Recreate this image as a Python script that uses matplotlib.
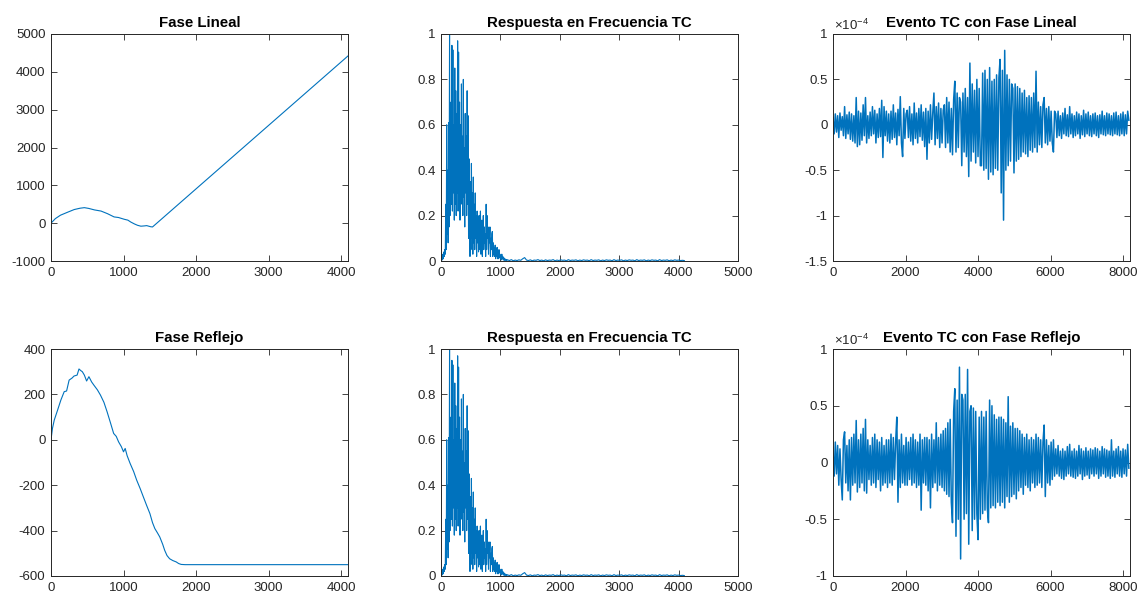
import numpy as np
import matplotlib
matplotlib.use("Agg")
from matplotlib import pyplot as plt
from matplotlib.ticker import FuncFormatter

plt.rcParams['font.family'] = ['Liberation Sans', 'DejaVu Sans']
plt.rcParams['axes.unicode_minus'] = False
plt.rcParams['mathtext.fontset'] = 'custom'
plt.rcParams['mathtext.rm'] = 'Liberation Sans'

azul = '#0072BD'
gris = '#262626'

# fase lineal (muestras 0..4096)
fl_x = [0, 60, 130, 230, 320, 400, 460, 520, 600, 690, 780, 870, 930, 1010, 1060,
        1100, 1150, 1193, 1240, 1284, 1320, 1376, 1400, 4096]
fl_y = [0, 120, 210, 290, 360, 395, 410, 390, 350, 320, 250, 165, 150, 103, 80,
        30, -20, -56, -80, -73, -65, -95, -100, 4420]

# fase reflejo
fr_x = [0, 20, 45, 90, 136, 182, 215, 250, 290, 318, 360, 386, 410, 432, 460, 491,
        523, 560, 591, 640, 682, 730, 773, 820, 864, 900, 932, 970, 1000, 1023,
        1050, 1091, 1140, 1182, 1230, 1273, 1320, 1364, 1400, 1432, 1468, 1500,
        1540, 1568, 1600, 1636, 1680, 1727, 1760, 1795, 1850, 4096]
fr_y = [0, 50, 87, 130, 175, 212, 215, 263, 272, 281, 285, 312, 305, 300, 285, 259,
        278, 255, 241, 220, 197, 165, 124, 75, 28, 15, -9, -30, -53, -38,
        -70, -104, -140, -178, -215, -251, -290, -325, -365, -391, -410, -428,
        -460, -487, -510, -524, -532, -538, -545, -549, -550, -550]

# |H| respuesta en frecuencia: tramo denso (paso 8) y cola (paso 32)
h_cabeza = [
    0.0, 0.01, 0.02, 0.005, 0.03, 0.01, 0.04, 0.02, 0.05, 0.03,
    0.25, 0.05, 0.6, 0.12, 0.4, 0.08, 0.61, 0.15, 1.0, 0.2,
    0.3, 0.7, 0.25, 0.95, 0.22, 0.93, 0.3, 0.6, 0.18, 0.85,
    0.25, 0.75, 0.2, 0.65, 0.3, 0.97, 0.22, 0.92, 0.35, 0.7,
    0.18, 0.6, 0.25, 0.78, 0.3, 0.55, 0.2, 0.8, 0.28, 0.5,
    0.15, 0.65, 0.3, 0.55, 0.2, 0.75, 0.25, 0.64, 0.1, 0.45,
    0.3, 0.02, 0.35, 0.05, 0.43, 0.1, 0.3, 0.03, 0.37, 0.08,
    0.25, 0.05, 0.3, 0.1, 0.2, 0.02, 0.22, 0.08, 0.18, 0.04,
    0.2, 0.05, 0.15, 0.22, 0.03, 0.12, 0.18, 0.02, 0.1, 0.2,
    0.05, 0.15, 0.08, 0.12, 0.02, 0.25, 0.05, 0.2, 0.1, 0.15,
    0.03, 0.12, 0.08, 0.15, 0.02, 0.1, 0.05, 0.12, 0.13, 0.02,
    0.08, 0.03, 0.06, 0.02, 0.07, 0.01, 0.05, 0.02, 0.06, 0.01,
    0.04, 0.01, 0.05, 0.015, 0.03, 0.01, 0.025, 0.005, 0.03, 0.01,
    0.02, 0.005, 0.015, 0.003, 0.01, 0.004, 0.008, 0.002, 0.006, 0.003,
]
h_cola = [
    0.005, 0.002, 0.006, 0.001, 0.004, 0.002, 0.005, 0.003, 0.01, 0.015,
    0.004, 0.002, 0.005, 0.001, 0.004, 0.003, 0.006, 0.002, 0.004, 0.001,
    0.005, 0.002, 0.004, 0.003, 0.006, 0.001, 0.004, 0.002, 0.005, 0.003,
    0.004, 0.001, 0.006, 0.002, 0.004, 0.003, 0.005, 0.001, 0.004, 0.002,
    0.005, 0.003, 0.004, 0.001, 0.006, 0.002, 0.004, 0.003, 0.005, 0.001,
    0.004, 0.002, 0.005, 0.003, 0.004, 0.001, 0.006, 0.002, 0.004, 0.003,
    0.005, 0.001, 0.004, 0.002, 0.005, 0.003, 0.004, 0.001, 0.006, 0.002,
    0.004, 0.003, 0.005, 0.001, 0.004, 0.002, 0.005, 0.003, 0.004, 0.001,
    0.006, 0.002, 0.004, 0.003, 0.005, 0.001, 0.004, 0.002, 0.005, 0.003,
    0.004, 0.002, 0.003, 0.002,
]

# eventos en el tiempo (unidades de 1e-4, paso 32 muestras)
ev_lineal = [
    0.08, -0.1, 0.12, -0.08, 0.1, -0.14, 0.13, -0.06, 0.09, -0.12, 0.2, -0.15, 0.11, -0.1, 0.14, -0.16,
    0.12, -0.18, 0.1, -0.2, 0.3, -0.24, 0.15, -0.22, 0.13, -0.17, 0.22, -0.12, 0.3, -0.2, 0.1, -0.15,
    0.14, -0.12, 0.2, -0.1, 0.16, -0.2, 0.12, -0.14, 0.18, -0.13, 0.27, -0.36, 0.2, -0.12, 0.15, -0.18,
    0.12, -0.2, 0.15, -0.16, 0.22, -0.14, 0.13, -0.22, 0.17, -0.12, 0.31, -0.2, -0.35, 0.18, -0.15, 0.12,
    0.16, -0.14, 0.2, -0.18, 0.12, -0.22, 0.24, -0.15, 0.13, -0.2, 0.18, -0.13, 0.22, -0.17, 0.14, -0.24,
    0.18, -0.38, 0.15, -0.2, 0.22, -0.16, 0.13, 0.35, -0.22, 0.2, -0.15, 0.24, -0.25, 0.18, -0.2, 0.16,
    0.22, -0.25, 0.3, -0.2, 0.25, -0.3, 0.18, -0.33, 0.28, 0.48, -0.3, 0.35, -0.25, 0.3, 0.25, -0.45,
    0.35, -0.3, 0.4, -0.35, 0.3, -0.57, 0.68, -0.4, 0.45, -0.3, 0.38, -0.42, 0.5, -0.35, 0.4, -0.45,
    -0.45, 0.57, -0.5, 0.6, -0.48, 0.5, -0.6, 0.63, -0.52, 0.48, -0.55, 0.5, -0.48, 0.55, -0.5, 0.52,
    0.72, -0.75, 0.6, -1.05, 0.82, -0.5, 0.55, -0.45, 0.5, -0.4, 0.45, 0.4, -0.53, 0.45, -0.4, 0.42,
    -0.38, 0.4, -0.35, 0.35, -0.3, 0.38, -0.32, 0.3, -0.35, 0.32, -0.28, 0.3, -0.3, 0.35, -0.25, 0.59,
    -0.3, 0.25, -0.22, 0.2, -0.25, 0.22, 0.3, -0.2, 0.18, -0.22, 0.2, -0.18, 0.15, -0.2, -0.3, 0.15,
    0.12, -0.14, 0.15, -0.12, 0.1, -0.15, 0.13, -0.1, 0.18, -0.12, 0.11, -0.13, 0.2, -0.1, 0.12, -0.14,
    0.1, -0.12, 0.14, -0.1, 0.12, -0.15, 0.1, -0.11, 0.16, -0.13, 0.12, -0.1, 0.14, -0.12, 0.1, -0.13,
    0.12, -0.1, 0.13, -0.12, 0.1, -0.14, 0.11, -0.1, 0.15, -0.11, 0.1, -0.12, 0.13, -0.1, 0.12, -0.11,
    0.1, -0.12, 0.13, -0.1, 0.14, -0.11, 0.1, -0.12, 0.12, -0.1, 0.14, -0.12, 0.11, -0.1, 0.15, 0.05,
]
ev_reflejo = [
    0.1, -0.12, 0.18, -0.1, 0.15, -0.2, 0.12, -0.15, -0.33, 0.2, 0.27, -0.18, 0.15, -0.25, 0.2, -0.33,
    0.22, -0.2, 0.25, -0.18, 0.37, -0.26, 0.2, -0.22, 0.25, -0.18, 0.3, -0.25, 0.38, -0.27, 0.2, -0.15,
    0.15, -0.2, 0.22, -0.18, 0.25, -0.22, 0.2, -0.15, 0.18, -0.25, 0.22, -0.2, 0.15, -0.18, 0.2, -0.22,
    0.2, -0.18, 0.25, -0.2, 0.22, -0.15, 0.18, 0.4, -0.35, 0.2, -0.22, 0.25, -0.18, 0.15, -0.2, 0.22,
    -0.2, 0.18, -0.15, 0.22, -0.2, 0.25, -0.18, 0.2, -0.22, 0.18, -0.2, 0.25, -0.42, 0.2, -0.18, 0.22,
    -0.2, 0.22, -0.25, 0.2, -0.4, 0.25, -0.22, 0.2, -0.18, 0.35, -0.25, 0.22, -0.2, 0.25, -0.22, 0.28,
    -0.25, 0.3, -0.28, 0.35, -0.3, 0.38, -0.35, -0.53, 0.45, 0.65, -0.65, 0.55, -0.5, 0.84, -0.85, 0.6,
    0.55, -0.5, 0.6, -0.45, 0.82, -0.72, 0.45, 0.5, -0.6, 0.48, -0.5, 0.45, -0.45, -0.68, 0.4, -0.5,
    0.45, -0.45, 0.4, -0.42, 0.45, -0.4, -0.53, 0.55, -0.4, 0.5, -0.38, 0.42, -0.4, 0.38, -0.35, 0.4,
    -0.38, 0.4, -0.35, 0.38, -0.4, 0.35, -0.3, 0.58, -0.35, 0.32, -0.3, 0.35, -0.28, 0.3, -0.32, 0.3,
    -0.25, 0.28, -0.22, 0.25, -0.28, 0.22, -0.2, 0.25, -0.22, 0.2, -0.25, 0.22, -0.18, 0.2, -0.22, 0.25,
    -0.2, 0.22, -0.18, 0.2, -0.22, 0.18, 0.33, -0.3, 0.2, -0.18, 0.15, -0.2, 0.18, -0.15, 0.2, -0.12,
    0.12, -0.1, 0.15, -0.12, 0.1, -0.14, 0.12, -0.15, 0.1, -0.12, 0.14, -0.1, 0.16, -0.12, 0.1, -0.13,
    0.12, -0.14, 0.1, -0.12, 0.15, -0.1, 0.12, -0.15, 0.1, -0.12, 0.13, -0.11, 0.1, -0.14, 0.12, -0.1,
    0.11, -0.12, 0.13, -0.1, 0.12, -0.14, 0.1, -0.12, 0.14, -0.1, 0.12, -0.13, 0.11, -0.12, 0.1, -0.14,
    0.2, -0.12, 0.1, -0.13, 0.12, -0.1, 0.14, -0.12, 0.1, -0.13, 0.12, -0.1, 0.11, -0.12, 0.16, -0.05,
]

h_x = np.concatenate([np.arange(len(h_cabeza)) * 8, 1120 + np.arange(len(h_cola)) * 32])
h_y = np.concatenate([h_cabeza, h_cola])
ev_x = np.arange(len(ev_lineal)) * 32


def estilo(ax, xlim, xticks, ylim, yticks, titulo):
    ax.set_xlim(*xlim)
    ax.set_ylim(*ylim)
    ax.set_xticks(xticks)
    ax.set_yticks(yticks)
    fmt = FuncFormatter(lambda v, p: '%g' % round(v, 6))
    ax.xaxis.set_major_formatter(fmt)
    ax.yaxis.set_major_formatter(fmt)
    ax.tick_params(direction='in', top=True, right=True, length=4, width=0.6,
                   labelsize=9.5, colors=gris, pad=4)
    for s in ax.spines.values():
        s.set_color(gris)
        s.set_linewidth(0.7)
    ax.set_title(titulo, fontsize=10.8, fontweight='bold', color='#000000', pad=5)


fig = plt.figure(figsize=(11.4, 5.97), dpi=100)
W, H = 1140, 597
izq = [51, 441, 833]
arr = [34, 349]
ancho, alto = 297, 227
axs = [[fig.add_axes([l / W, 1 - (t + alto) / H, ancho / W, alto / H]) for l in izq] for t in arr]

lw = 0.8

ax = axs[0][0]
ax.plot(fl_x, fl_y, color=azul, lw=lw)
estilo(ax, (0, 4096), range(0, 4001, 1000), (-1000, 5000), range(-1000, 5001, 1000), 'Fase Lineal')

ax = axs[1][0]
ax.plot(fr_x, fr_y, color=azul, lw=lw)
estilo(ax, (0, 4096), range(0, 4001, 1000), (-600, 400), range(-600, 401, 200), 'Fase Reflejo')

for fila in range(2):
    ax = axs[fila][1]
    ax.plot(h_x, h_y, color=azul, lw=lw)
    estilo(ax, (0, 5000), range(0, 5001, 1000), (0, 1), np.arange(0, 1.01, 0.2),
           'Respuesta en Frecuencia TC')

ax = axs[0][2]
ax.plot(ev_x, ev_lineal, color=azul, lw=1.1)
estilo(ax, (0, 8192), range(0, 8001, 2000), (-1.5, 1), np.arange(-1.5, 1.01, 0.5),
       'Evento TC con Fase Lineal')
ax.text(0.005, 1.005, r'$\times10^{-4}$', transform=ax.transAxes, fontsize=9.5,
        color=gris, ha='left', va='bottom')

ax = axs[1][2]
ax.plot(ev_x, ev_reflejo, color=azul, lw=1.1)
estilo(ax, (0, 8192), range(0, 8001, 2000), (-1, 1), np.arange(-1, 1.01, 0.5),
       'Evento TC con Fase Reflejo')
ax.text(0.005, 1.005, r'$\times10^{-4}$', transform=ax.transAxes, fontsize=9.5,
        color=gris, ha='left', va='bottom')

fig.savefig('out.png', dpi=100, facecolor='white')
